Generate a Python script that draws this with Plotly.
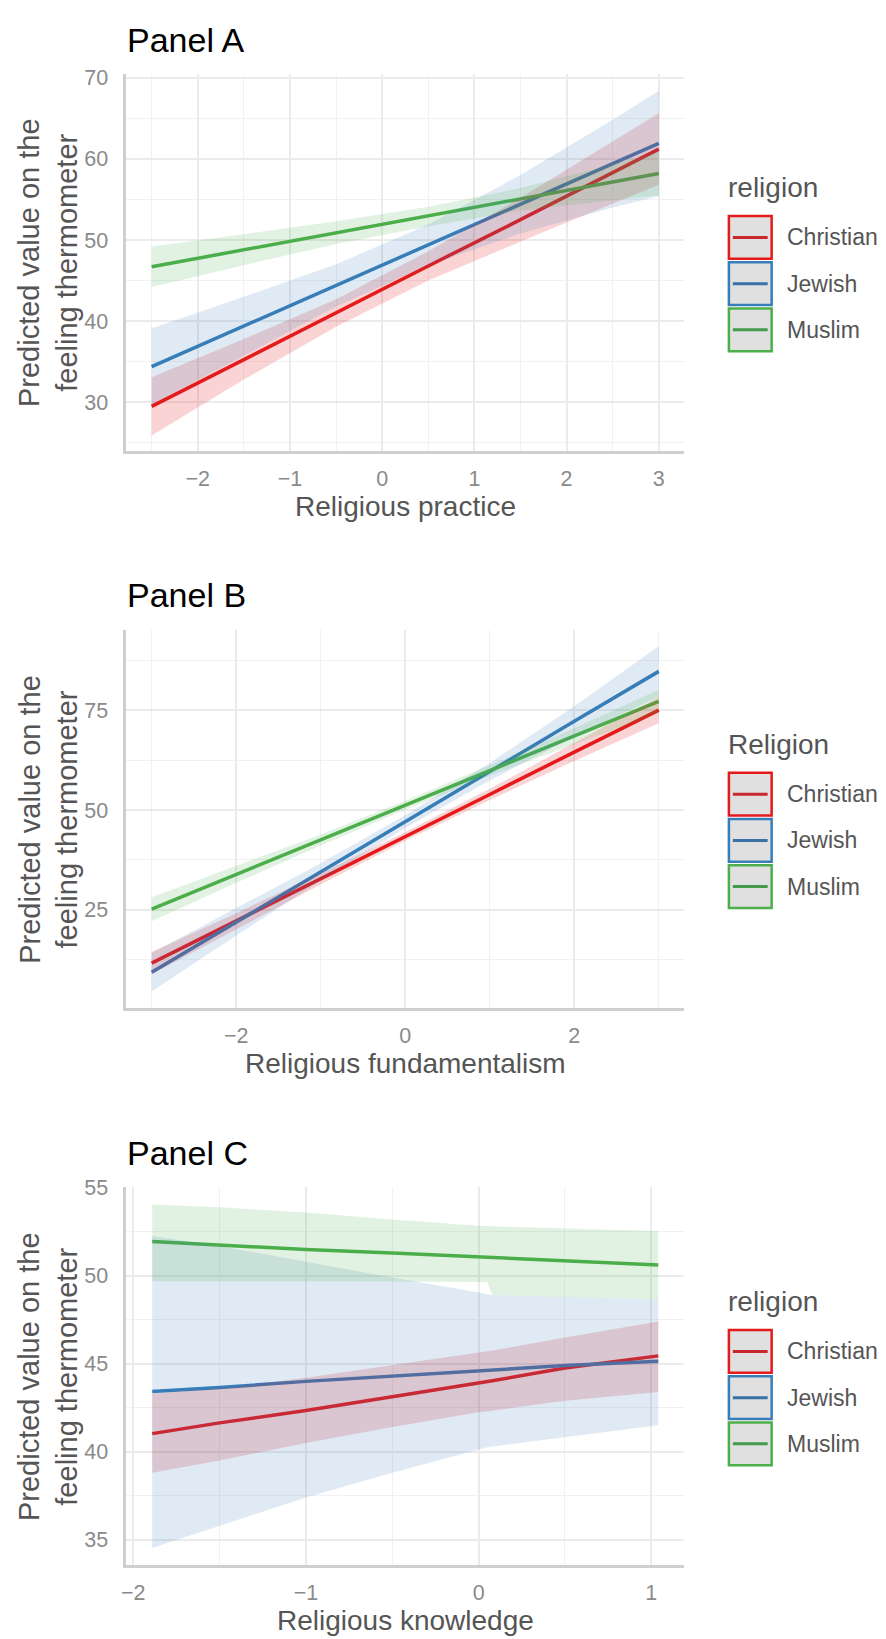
import plotly.graph_objects as go

W, H = 886, 1639

# ---------------- data ----------------
religions = ["Christian", "Jewish", "Muslim"]
line_colors = ["#E41A1C", "#377EB8", "#4DAF4A"]
band_colors = ["rgba(228,26,28,0.19)", "rgba(55,126,184,0.16)", "rgba(77,175,74,0.16)"]
key_line_colors = ["#C8282D", "#3A71A6", "#44994A"]

panel_titles = ["Panel A", "Panel B", "Panel C"]
x_titles = ["Religious practice", "Religious fundamentalism", "Religious knowledge"]
legend_titles = ["religion", "Religion", "religion"]
y_title = "Predicted value on the<br>feeling thermometer"

# Panel A: religious practice
xa = [-2.5, -1.5, -0.5, 0.5, 1.5, 2.5, 3.0]
a_christian_fit = [29.5, 35.3, 41.0, 46.8, 52.5, 58.3, 61.2]
a_christian_lo = [25.9, 32.8, 39.3, 45.0, 49.8, 54.5, 56.8]
a_christian_hi = [33.1, 37.8, 42.7, 48.6, 55.2, 62.1, 65.6]
a_jewish_fit = [34.4, 39.4, 44.4, 49.4, 54.4, 59.4, 61.9]
a_jewish_lo = [29.7, 35.8, 41.8, 46.9, 50.8, 54.0, 55.4]
a_jewish_hi = [39.1, 43.0, 47.0, 51.9, 58.0, 64.8, 68.4]
a_muslim_fit = [46.7, 48.8, 50.9, 52.9, 55.0, 57.1, 58.2]
a_muslim_lo = [44.2, 46.9, 49.5, 51.7, 53.6, 54.9, 55.5]
a_muslim_hi = [49.2, 50.7, 52.3, 54.1, 56.4, 59.3, 60.9]

# Panel B: religious fundamentalism
xb = [-3, -2, -1, 0, 1, 2, 3]
b_christian_fit = [11.7, 22.2, 32.8, 43.4, 53.9, 64.5, 75.0]
b_christian_lo = [8.9, 20.2, 31.4, 42.3, 52.5, 62.3, 71.7]
b_christian_hi = [14.5, 24.2, 34.2, 44.5, 55.3, 66.7, 78.3]
b_jewish_fit = [9.4, 22.0, 34.5, 47.1, 59.6, 72.2, 84.7]
b_jewish_lo = [4.6, 18.6, 32.3, 45.5, 57.4, 68.4, 78.4]
b_jewish_hi = [14.2, 25.4, 36.7, 48.7, 61.8, 76.0, 91.0]
b_muslim_fit = [25.2, 33.9, 42.5, 51.2, 59.9, 68.5, 77.2]
b_muslim_lo = [22.2, 31.8, 41.1, 50.1, 58.6, 66.5, 74.3]
b_muslim_hi = [28.2, 36.0, 43.9, 52.3, 61.2, 70.5, 80.1]

# Panel C: religious knowledge
xc = [-1.89, -1.5, -1.0, -0.5, 0.0, 0.05, 0.08, 0.5, 1.04]
c_christian_fit = [41.03, 41.64, 42.34, 43.10, 43.90, 43.98, 44.03, 44.76, 45.45]
c_christian_lo = [38.80, 39.50, 40.50, 41.40, 42.25, 42.30, 42.33, 42.90, 43.40]
c_christian_hi = [43.30, 43.60, 44.20, 44.90, 45.60, 45.70, 45.75, 46.50, 47.40]
c_jewish_fit = [43.43, 43.65, 44.00, 44.30, 44.60, 44.62, 44.63, 44.90, 45.15]
c_jewish_lo = [34.53, 35.77, 37.40, 38.80, 40.15, 40.25, 40.30, 40.84, 41.50]
c_jewish_hi = [52.27, 51.70, 50.80, 49.90, 49.05, 48.95, 48.90, 48.80, 48.66]
c_muslim_fit = [51.95, 51.75, 51.50, 51.30, 51.08, 51.06, 51.05, 50.85, 50.62]
c_muslim_lo = [49.70, 49.70, 49.70, 49.68, 49.65, 49.64, 48.90, 48.80, 48.66]
c_muslim_hi = [54.06, 53.90, 53.60, 53.20, 52.85, 52.83, 52.82, 52.70, 52.55]

# ---------------- layout constants (pixels) ----------------
FONT = "Liberation Sans, Arial, Helvetica, sans-serif"
X0, X1 = 122, 683
panel_px = [(63, 443), (623, 1004), (1184, 1565)]
x_ranges = [[-2.775, 3.275], [-3.3, 3.3], [-2.04, 1.19]]
y_ranges = [[24.0, 70.5], [0.4, 95.1], [33.53, 55.05]]
x_dticks = [(1, 0.5), (2, 1), (1, 0.5)]
y_dticks = [(10, 5), (25, 12.5), (5, 2.5)]
title_y = [29, 588, 1150]
xtitle_y = [499, 1060, 1620]


def px_x(v):
    return v / W


def px_y(v):
    return 1 - v / H


panels = [
    (xa, [(a_christian_fit, a_christian_lo, a_christian_hi),
          (a_jewish_fit, a_jewish_lo, a_jewish_hi),
          (a_muslim_fit, a_muslim_lo, a_muslim_hi)]),
    (xb, [(b_christian_fit, b_christian_lo, b_christian_hi),
          (b_jewish_fit, b_jewish_lo, b_jewish_hi),
          (b_muslim_fit, b_muslim_lo, b_muslim_hi)]),
    (xc, [(c_christian_fit, c_christian_lo, c_christian_hi),
          (c_jewish_fit, c_jewish_lo, c_jewish_hi),
          (c_muslim_fit, c_muslim_lo, c_muslim_hi)]),
]

fig = go.Figure()
annotations = []
shapes = []
layout_axes = {}

for p, (xs, series) in enumerate(panels):
    sfx = "" if p == 0 else str(p + 1)
    xref, yref = "x" + sfx, "y" + sfx
    # lines first, ribbons drawn over them (as in the reference)
    for i, (fit, lo, hi) in enumerate(series):
        fig.add_trace(go.Scatter(x=xs, y=fit, mode="lines", xaxis=xref, yaxis=yref,
                                 line=dict(color=line_colors[i], width=3.5),
                                 showlegend=False, hoverinfo="skip"))
    for i, (fit, lo, hi) in enumerate(series):
        fig.add_trace(go.Scatter(x=xs, y=lo, mode="lines", xaxis=xref, yaxis=yref,
                                 line=dict(width=0, color=band_colors[i]),
                                 showlegend=False, hoverinfo="skip"))
        fig.add_trace(go.Scatter(x=xs, y=hi, mode="lines", xaxis=xref, yaxis=yref,
                                 line=dict(width=0, color=band_colors[i]),
                                 fill="tonexty", fillcolor=band_colors[i],
                                 showlegend=False, hoverinfo="skip"))

    top, bot = panel_px[p]
    common = dict(showline=True, linecolor="#CFCFCF", linewidth=2.5,
                  showgrid=True, gridcolor="#EBEBEB", gridwidth=2,
                  zeroline=False, ticks="outside", tickcolor="rgba(0,0,0,0)",
                  tickfont=dict(family=FONT, size=21.5, color="#8A8A8A"))
    layout_axes["xaxis" + sfx] = dict(
        common, domain=[px_x(X0), px_x(X1)], range=x_ranges[p], anchor=yref,
        tick0=0, dtick=x_dticks[p][0], ticklen=6,
        minor=dict(dtick=x_dticks[p][1], tick0=0, showgrid=True,
                   gridcolor="#F1F1F1", gridwidth=1.3, ticks=""))
    layout_axes["yaxis" + sfx] = dict(
        common, domain=[px_y(bot), px_y(top)], range=y_ranges[p], anchor=xref,
        tick0=0, dtick=y_dticks[p][0], ticklen=11,
        minor=dict(dtick=y_dticks[p][1], tick0=0, showgrid=True,
                   gridcolor="#F1F1F1", gridwidth=1.3, ticks=""))

    cy = (top + bot) / 2
    # panel title
    annotations.append(dict(text=panel_titles[p], x=px_x(121), y=px_y(title_y[p]),
                            xref="paper", yref="paper", xanchor="left", yanchor="middle",
                            showarrow=False, font=dict(family=FONT, size=34, color="#000000")))
    # x title
    annotations.append(dict(text=x_titles[p], x=px_x((X0 + X1) / 2), y=px_y(xtitle_y[p]),
                            xref="paper", yref="paper", xanchor="center", yanchor="middle",
                            showarrow=False, font=dict(family=FONT, size=28, color="#555555")))
    # y title
    annotations.append(dict(text=y_title, x=px_x(44), y=px_y(cy),
                            xref="paper", yref="paper", xanchor="center", yanchor="middle",
                            textangle=-90, showarrow=False,
                            font=dict(family=FONT, size=29, color="#555555")))
    # legend
    annotations.append(dict(text=legend_titles[p], x=px_x(725), y=px_y(cy - 75.5),
                            xref="paper", yref="paper", xanchor="left", yanchor="middle",
                            showarrow=False, font=dict(family=FONT, size=28, color="#555555")))
    for i, name in enumerate(religions):
        btop = cy - 46.5 + i * 46.5
        bbot = btop + 43
        shapes.append(dict(type="rect", xref="paper", yref="paper",
                           x0=px_x(728), x1=px_x(771), y0=px_y(bbot), y1=px_y(btop),
                           fillcolor="#E0E0E0", line=dict(color=line_colors[i], width=2.5)))
        ym = (btop + bbot) / 2
        shapes.append(dict(type="line", xref="paper", yref="paper",
                           x0=px_x(732), x1=px_x(767), y0=px_y(ym), y1=px_y(ym),
                           line=dict(color=key_line_colors[i], width=3)))
        annotations.append(dict(text=name, x=px_x(784), y=px_y(ym),
                                xref="paper", yref="paper", xanchor="left", yanchor="middle",
                                showarrow=False, font=dict(family=FONT, size=23, color="#555555")))

fig.update_layout(
    width=W, height=H,
    margin=dict(l=0, r=0, t=0, b=0),
    paper_bgcolor="white", plot_bgcolor="white",
    showlegend=False,
    annotations=annotations, shapes=shapes,
    font=dict(family=FONT),
    **layout_axes,
)

fig.write_html(
    "out.html",
    config={"displayModeBar": False, "responsive": False},
    post_script=(
        "document.body.style.margin='0';document.body.style.padding='0';"
        "document.documentElement.style.overflow='hidden';"
        "document.body.style.overflow='hidden';"
    ),
)
